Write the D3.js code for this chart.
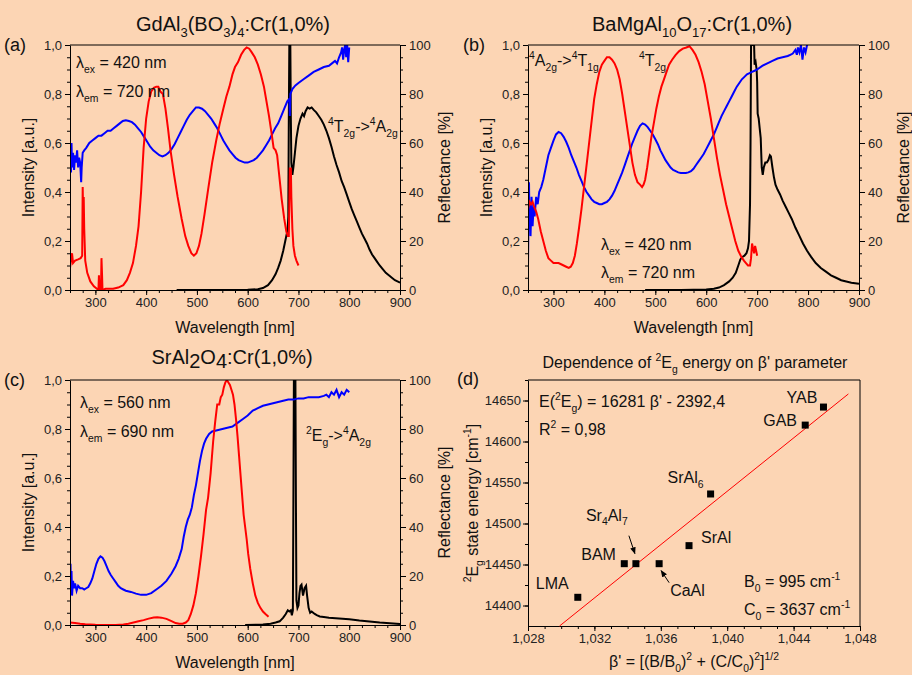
<!DOCTYPE html>
<html>
<head>
<meta charset="utf-8">
<script src="https://cdn.jsdelivr.net/npm/d3@7"></script>
<style>
body { margin: 0; background: #FCD5B4; }
svg { display: block; font-family: "Liberation Sans", Arial, sans-serif; }
</style>
</head>
<body>
<svg id="chart" width="912" height="675"></svg>
<script>
// ---- panel (a) GdAl3(BO3)4 ----
const aRedNm = [250,252,254,256,260,266,271,274,275,276,277,278,280,284,290,297,303,306,307,308,311,312,313,314,320,335,345,355,362,368,374,380,385,390,395,400,405,410,415,420,424,428,433,438,443,448,455,462,470,477,483,489,494,499,504,509,515,522,530,538,545,552,558,564,570,575,581,587,593,598,603,608,614,620,626,632,637,642,647,651,655,658,662,667,672,676,679,681,682,683,684,685,686,688,690,693,696,700];
const aRedVal = [0.09,0.12,0.15,0.11,0.12,0.125,0.13,0.14,0.42,0.30,0.38,0.25,0.12,0.07,0.035,0.015,0.005,0.0,0.06,0.0,0.0,0.13,0.07,0.0,0.005,0.005,0.01,0.02,0.04,0.07,0.11,0.18,0.26,0.40,0.58,0.70,0.77,0.81,0.825,0.83,0.83,0.81,0.80,0.74,0.66,0.57,0.47,0.38,0.29,0.22,0.18,0.15,0.14,0.15,0.18,0.23,0.31,0.41,0.52,0.61,0.68,0.74,0.79,0.83,0.88,0.91,0.93,0.96,0.98,0.99,0.985,0.97,0.95,0.92,0.88,0.83,0.77,0.71,0.64,0.58,0.57,0.55,0.47,0.37,0.29,0.24,0.22,0.22,0.35,0.50,0.44,0.50,0.38,0.25,0.18,0.14,0.12,0.10];
const aBlueNm = [250,251,252,253,254,256,258,260,262,264,266,268,270,272,273,275,278,282,288,294,300,306,312,318,324,330,336,342,348,354,360,366,372,378,384,390,396,402,408,414,420,426,432,438,444,450,456,462,468,474,480,486,492,498,504,510,516,522,528,534,540,546,552,558,564,570,576,582,588,594,600,606,612,618,624,630,636,642,648,654,660,666,672,678,682,683,684,688,694,700,710,720,730,740,750,760,766,772,776,780,784,786,788,790,792,794,796,798,800];
const aBlueVal = [52,58,48,60,50,56,49,55,52,57,50,54,52,44,50,56,57,58,60,61,62,63,63,64,65,65,66,67,68,69,69.3,69,68.5,67.5,66,64.5,62.5,60.5,58.5,57,56,55,54.5,55,56,57.5,59.5,62,64.5,67,69.5,71.5,73,74.5,74.5,74,73,71.5,70,68,66,63.5,61,59,57,55.5,54,53,52.5,52,52,52.5,53,54,55.5,57,59,61,63.5,66,68,71,74,77,78,71,80,82,83.5,84.5,86,87.5,89,90,91,91.5,92.5,93.5,92.5,95,97,99,94,98,100,95,100,93,99];
const aBlackNm = [460,500,550,600,620,630,640,648,655,660,665,670,674,677,679,680,681,682,684,685,686,688,690,693,696,700,704,708,711,714,718,722,726,730,735,740,745,750,755,760,765,770,775,780,785,790,795,800,805,810,815,820,825,830,835,840,845,850,855,860,866,872,878,884,890,895,900];
const aBlackVal = [0,0,0,0.001,0.003,0.008,0.02,0.04,0.065,0.09,0.12,0.16,0.2,0.23,0.26,0.3,0.7,1.0,1.0,0.7,0.52,0.47,0.5,0.56,0.62,0.67,0.7,0.72,0.71,0.73,0.745,0.74,0.745,0.735,0.725,0.71,0.695,0.675,0.65,0.62,0.585,0.545,0.51,0.48,0.445,0.42,0.39,0.36,0.33,0.305,0.28,0.255,0.23,0.21,0.19,0.165,0.145,0.13,0.115,0.1,0.085,0.07,0.06,0.05,0.04,0.035,0.03];

// ---- panel (b) BaMgAl10O17 ----
const bRedNm = [250,253,256,259,262,266,270,275,280,285,290,295,300,305,310,315,320,325,330,334,338,342,346,350,355,360,365,370,375,380,385,390,395,400,405,410,415,420,425,430,435,440,445,450,455,460,465,470,474,477,480,484,488,492,497,502,507,512,517,522,527,533,540,547,554,561,567,573,579,585,591,597,603,609,615,621,627,633,639,645,651,657,663,669,674,678,682,686,688,690,692,694,696,698,700];
const bRedVal = [0.33,0.36,0.35,0.36,0.34,0.32,0.29,0.24,0.2,0.16,0.13,0.12,0.11,0.11,0.11,0.105,0.1,0.095,0.09,0.095,0.11,0.14,0.19,0.25,0.33,0.42,0.51,0.6,0.69,0.78,0.84,0.89,0.92,0.935,0.95,0.95,0.94,0.925,0.9,0.86,0.8,0.73,0.66,0.59,0.52,0.47,0.44,0.43,0.42,0.43,0.45,0.5,0.56,0.62,0.68,0.74,0.79,0.83,0.86,0.89,0.92,0.94,0.96,0.975,0.985,0.99,0.995,0.98,0.96,0.93,0.89,0.84,0.77,0.7,0.62,0.54,0.47,0.41,0.35,0.3,0.25,0.2,0.16,0.135,0.12,0.11,0.1,0.1,0.13,0.19,0.17,0.15,0.18,0.16,0.14];
const bBlueNm = [250,251,252,253,254,255,257,259,261,263,266,269,272,276,280,285,290,295,300,305,310,315,320,325,330,335,340,345,350,355,360,365,370,375,380,385,390,395,400,405,410,415,420,425,430,435,440,445,450,455,460,465,470,475,480,485,490,495,500,505,510,515,520,525,530,535,540,545,550,555,560,565,570,575,580,585,590,595,600,605,610,615,620,625,630,635,640,645,650,655,660,665,670,675,680,685,690,695,700,710,720,730,740,750,760,765,770,775,778,780,783,786,789,792,795,798,800];
const bBlueVal = [10,30,44,25,35,22,38,26,34,30,38,35,40,42,45,50,55,58,61,63.5,64.5,64,62.5,60.5,58,55,52.5,50,47,44.5,42,40,38.5,37,36,35.5,35,35,35.5,36,37,38.5,40.5,43,45.5,48,51,54,57,60,62.5,65,67,68,67.5,66.5,65,63.5,61.5,59.5,57,55,53,51.5,50,49,48.5,48,47.8,47.8,47.8,48,48.5,49.5,51,52.5,54,55.5,57.5,59.5,61.5,63.5,66,68.5,71,73,75,77,79,81,83,84.5,86,87,88,88.5,89,89.5,90,91.5,92.5,93.5,94.5,95,95.5,96,96.5,98,96,99,97,100,94,99,97,100,100];
const bBlackNm = [480,550,600,615,625,635,645,652,658,663,667,671,675,679,682,684,686,687,688,692,694,695,697,699,700,701,703,705,707,709,711,713,716,719,722,725,727,730,733,736,740,745,750,756,762,768,775,782,790,798,806,815,825,835,845,855,865,875,885,900];
const bBlackVal = [0,0,0.002,0.005,0.01,0.02,0.035,0.05,0.07,0.1,0.125,0.135,0.14,0.15,0.17,0.2,0.35,0.6,1.0,1.0,1.0,0.92,0.93,0.9,0.85,0.72,0.7,0.66,0.62,0.5,0.47,0.5,0.52,0.52,0.53,0.55,0.545,0.5,0.46,0.43,0.41,0.39,0.365,0.34,0.315,0.29,0.255,0.225,0.19,0.16,0.135,0.11,0.09,0.075,0.06,0.05,0.04,0.035,0.03,0.025];

// ---- panel (c) SrAl2O4 ----
const cBlueNm = [250,251,252,253,254,256,258,260,263,266,270,274,278,282,286,290,294,298,302,306,310,314,318,322,326,330,335,340,345,350,355,360,370,380,390,400,410,420,430,440,450,458,464,470,474,478,482,486,490,494,498,502,506,510,514,518,524,530,540,550,560,570,580,590,600,610,620,630,640,650,660,670,680,690,700,710,720,730,740,750,755,760,765,770,775,780,785,790,795,800];
const cBlueVal = [20,25,14,22,12,18,15,17,14,16,15,15,14.5,15,15.5,17,19,22,25,27,28,27.5,26,24,22,20.5,19,17.5,16,15,14.5,14,13.5,12.8,12.3,12.3,13,14.5,16,18,21,24,27,31,36,40,43,45,48,53,57,62,67,71,74,76,78,79,79.5,80,80.5,81,82.5,84,85.5,87.5,88.5,89.5,90,90.5,91,91.5,92,92,92.5,92.5,93,93,93,93.5,94,93,95,94,96,93,95,94,96,95];
const cRedNm = [250,260,270,280,300,320,340,355,365,375,385,395,405,415,422,430,440,450,458,465,472,478,483,488,493,498,503,508,513,518,522,527,532,536,540,544,547,550,553,556,559,562,565,568,571,574,577,580,583,586,589,592,595,598,601,605,610,615,620,625,630,635,641];
const cRedVal = [0.01,0.008,0.005,0.003,0.001,0,0,0.002,0.005,0.01,0.015,0.02,0.026,0.031,0.032,0.03,0.025,0.016,0.008,0.005,0.005,0.01,0.02,0.045,0.08,0.13,0.2,0.28,0.37,0.47,0.52,0.62,0.75,0.83,0.9,0.9,0.93,0.94,0.97,0.99,1.0,0.99,0.98,0.96,0.94,0.9,0.84,0.77,0.69,0.61,0.53,0.45,0.4,0.35,0.29,0.23,0.17,0.12,0.09,0.07,0.055,0.045,0.034];
const cBlackNm = [595,630,645,655,663,670,675,679,682,685,687,689,690,691,694,695,696,698,700,702,704,706,709,712,715,717,720,723,726,729,732,736,742,750,760,780,800,820,840,860,880,900];
const cBlackVal = [0,0.002,0.005,0.01,0.015,0.03,0.045,0.06,0.055,0.06,0.04,0.06,0.5,1.0,1.0,0.5,0.1,0.07,0.08,0.13,0.16,0.165,0.12,0.15,0.16,0.12,0.07,0.05,0.055,0.05,0.045,0.04,0.035,0.033,0.03,0.027,0.023,0.018,0.014,0.01,0.007,0.004];

// ---- panel (d) 2Eg energy vs beta' ----
const dNames = ["LMA", "BAM", "Sr4Al7", "CaAl", "SrAl", "SrAl6", "GAB", "YAB"];
const dLabels = ["LMA", "BAM", "Sr_{4}Al_{7}", "CaAl", "SrAl", "SrAl_{6}", "GAB", "YAB"];
const dBeta = [1.0310, 1.0338, 1.0345, 1.0359, 1.0377, 1.0390, 1.0447, 1.0458];
const dEnergy = [14410, 14451, 14451, 14451, 14473, 14536, 14620, 14642];
const dFitBeta = [1.0299, 1.0473];
const dFitEnergy = [14375, 14658];

const wlTicks = [300, 400, 500, 600, 700, 800, 900];
const intTicks = [0, 0.2, 0.4, 0.6, 0.8, 1.0];
const refTicks = [0, 20, 40, 60, 80, 100];
const betaTicks = [1.028, 1.032, 1.036, 1.040, 1.044, 1.048];
const energyTicks = [14400, 14450, 14500, 14550, 14600, 14650];

// label offsets for panel (d), relative to the data point
const dLabelPos = {
  LMA: [-42, -8], BAM: [-43, -4], Sr4Al7: [-50, -43], CaAl: [11, 32],
  SrAl: [12, -3], SrAl6: [-43, -11], GAB: [-42, 1], YAB: [-37, -4]
};
const dArrows = { Sr4Al7: [[-7, -28], [-1, -10]], CaAl: [[10, 19], [2, 7]] };

const svg = d3.select("#chart");
svg.append("rect").attr("width", 912).attr("height", 675).attr("fill", "#FCD5B4");

svg.append("defs").append("marker")
  .attr("id", "arrow").attr("viewBox", "0 0 10 10").attr("refX", 9).attr("refY", 5)
  .attr("markerWidth", 7).attr("markerHeight", 7).attr("orient", "auto")
  .append("path").attr("d", "M0,1 L10,5 L0,9 Z").attr("fill", "#000");

const comma = f => d => d3.format(f)(d).replace(".", ",");

// text with _{sub}, ^{sup} and ~{lowered} pieces
function rich(parent, x, y, str, size, anchor, rotate) {
  const t = parent.append("text")
    .attr("font-size", size).attr("fill", "#111")
    .attr("text-anchor", anchor || "start");
  if (rotate) t.attr("transform", `translate(${x},${y}) rotate(-90)`);
  else t.attr("x", x).attr("y", y);
  const parts = str.split(/(_\{[^}]*\}|\^\{[^}]*\}|~\{[^}]*\})/).filter(s => s.length);
  let shift = 0;
  parts.forEach(p => {
    let off = 0, fs = size, txt = p;
    if (p[0] === "_" && p[1] === "{") { txt = p.slice(2, -1); off = size * 0.3; fs = size * 0.65; }
    else if (p[0] === "^" && p[1] === "{") { txt = p.slice(2, -1); off = -size * 0.42; fs = size * 0.65; }
    else if (p[0] === "~" && p[1] === "{") { txt = p.slice(2, -1); off = size * 0.22; fs = size; }
    t.append("tspan").attr("dy", off - shift).attr("font-size", fs).text(txt);
    shift = off;
  });
  return t;
}

function styleAxis(sel, fs) {
  sel.selectAll("text").attr("font-size", fs || 13).attr("fill", "#222")
    .attr("font-family", "Liberation Sans, Arial, sans-serif");
  sel.selectAll("line").attr("stroke", "#000");
  sel.select(".domain").attr("stroke", "#000");
}

function spectrum(box, id, red, blue, black) {
  const x = d3.scaleLinear().domain([250, 900]).range([box.x0, box.x1]);
  const yL = d3.scaleLinear().domain([0, 1]).range([box.y1, box.y0]);
  const yR = d3.scaleLinear().domain([0, 100]).range([box.y1, box.y0]);
  const g = svg.append("g");

  g.append("clipPath").attr("id", "clip" + id).append("rect")
    .attr("x", box.x0).attr("y", box.y0)
    .attr("width", box.x1 - box.x0).attr("height", box.y1 - box.y0);
  const plot = g.append("g").attr("clip-path", `url(#clip${id})`);

  const lineL = d3.line().x(d => x(d[0])).y(d => yL(d[1]));
  const lineR = d3.line().x(d => x(d[0])).y(d => yR(d[1]));
  plot.append("path").datum(d3.zip(black[0], black[1])).attr("d", lineL)
    .attr("fill", "none").attr("stroke", "#000").attr("stroke-width", 2);
  plot.append("path").datum(d3.zip(blue[0], blue[1])).attr("d", lineR)
    .attr("fill", "none").attr("stroke", "#0000FF").attr("stroke-width", 2);
  plot.append("path").datum(d3.zip(red[0], red[1])).attr("d", lineL)
    .attr("fill", "none").attr("stroke", "#FF0000").attr("stroke-width", 2);

  // minor ticks
  g.append("g").attr("transform", `translate(0,${box.y1})`)
    .call(d3.axisBottom(x).tickValues(d3.range(250, 901, 25)).tickSize(3).tickFormat(""))
    .call(s => { s.select(".domain").remove(); styleAxis(s); });
  g.append("g").attr("transform", `translate(${box.x0},0)`)
    .call(d3.axisLeft(yL).tickValues(d3.range(0, 21).map(i => i * 0.05)).tickSize(3).tickFormat(""))
    .call(s => { s.select(".domain").remove(); styleAxis(s); });
  g.append("g").attr("transform", `translate(${box.x1},0)`)
    .call(d3.axisRight(yR).tickValues(d3.range(0, 101, 5)).tickSize(3).tickFormat(""))
    .call(s => { s.select(".domain").remove(); styleAxis(s); });

  // major ticks
  g.append("g").attr("transform", `translate(0,${box.y1})`)
    .call(d3.axisBottom(x).tickValues(wlTicks).tickSize(5).tickPadding(3).tickSizeOuter(0))
    .call(styleAxis);
  g.append("g").attr("transform", `translate(${box.x0},0)`)
    .call(d3.axisLeft(yL).tickValues(intTicks).tickSize(5).tickPadding(3).tickSizeOuter(0).tickFormat(comma(".1f")))
    .call(styleAxis);
  g.append("g").attr("transform", `translate(${box.x1},0)`)
    .call(d3.axisRight(yR).tickValues(refTicks).tickSize(6).tickPadding(3).tickSizeOuter(0))
    .call(styleAxis);
  g.append("line").attr("x1", box.x0).attr("x2", box.x1).attr("y1", box.y0).attr("y2", box.y0)
    .attr("stroke", "#000");

  const cx = (box.x0 + box.x1) / 2, cy = (box.y0 + box.y1) / 2;
  rich(g, cx, box.y1 + 43, "Wavelength [nm]", 16, "middle");
  rich(g, box.x0 - 36, cy, "Intensity [a.u.]", 16, "middle", true);
  rich(g, box.x1 + 50, cy, "Reflectance [%]", 16, "middle", true);
  return g;
}

const boxA = { x0: 70, x1: 400, y0: 45, y1: 290 };
const boxB = { x0: 528, x1: 859, y0: 45, y1: 290 };
const boxC = { x0: 70, x1: 400, y0: 380, y1: 625 };
const boxD = { x0: 528, x1: 860, y0: 380, y1: 626 };

const gA = spectrum(boxA, "a", [aRedNm, aRedVal], [aBlueNm, aBlueVal], [aBlackNm, aBlackVal]);
rich(gA, 233, 31, "GdAl_{3}(BO_{3})_{4}:Cr(1,0%)", 20, "middle");
rich(gA, 4, 51, "(a)", 18);
rich(gA, 76, 68, "λ_{ex} = 420 nm", 16);
rich(gA, 76, 97, "λ_{em} = 720 nm", 16);
rich(gA, 328, 132, "^{4}T_{2g}->^{4}A_{2g}", 16);

const gB = spectrum(boxB, "b", [bRedNm, bRedVal], [bBlueNm, bBlueVal], [bBlackNm, bBlackVal]);
rich(gB, 692, 31, "BaMgAl_{10}O_{17}:Cr(1,0%)", 20, "middle");
rich(gB, 463, 51, "(b)", 18);
rich(gB, 529, 66, "^{4}A_{2g}->^{4}T_{1g}", 16);
rich(gB, 639, 66, "^{4}T_{2g}", 16);
rich(gB, 601, 250, "λ_{ex} = 420 nm", 16);
rich(gB, 601, 278, "λ_{em} = 720 nm", 16);

const gC = spectrum(boxC, "c", [cRedNm, cRedVal], [cBlueNm, cBlueVal], [cBlackNm, cBlackVal]);
rich(gC, 232, 364, "SrAl~{2}O~{4}:Cr(1,0%)", 20, "middle");
rich(gC, 4, 386, "(c)", 18);
rich(gC, 80, 408, "λ_{ex} = 560 nm", 16);
rich(gC, 80, 437, "λ_{em} = 690 nm", 16);
rich(gC, 306, 441, "^{2}E_{g}->^{4}A_{2g}", 16);

// ---- panel (d) ----
const gD = svg.append("g");
const xD = d3.scaleLinear().domain([1.028, 1.048]).range([boxD.x0, boxD.x1]);
const yD = d3.scaleLinear().domain([14375, 14675]).range([boxD.y1, boxD.y0]);

gD.append("g").attr("transform", `translate(0,${boxD.y1})`)
  .call(d3.axisBottom(xD).tickValues(d3.range(0, 21).map(i => 1.028 + i * 0.001)).tickSize(3).tickFormat(""))
  .call(s => { s.select(".domain").remove(); styleAxis(s); });
gD.append("g").attr("transform", `translate(${boxD.x0},0)`)
  .call(d3.axisLeft(yD).tickValues(d3.range(14400, 14676, 25)).tickSize(3).tickFormat(""))
  .call(s => { s.select(".domain").remove(); styleAxis(s); });
gD.append("g").attr("transform", `translate(0,${boxD.y1})`)
  .call(d3.axisBottom(xD).tickValues(betaTicks).tickSize(5).tickPadding(3).tickSizeOuter(0).tickFormat(comma(".3f")))
  .call(styleAxis);
gD.append("g").attr("transform", `translate(${boxD.x0},0)`)
  .call(d3.axisLeft(yD).tickValues(energyTicks).tickSize(5).tickPadding(2).tickSizeOuter(0).tickFormat(d3.format("d")))
  .call(styleAxis);
gD.append("path")
  .attr("d", `M${boxD.x0},${boxD.y0}H${boxD.x1}V${boxD.y1}`)
  .attr("fill", "none").attr("stroke", "#000");

gD.append("path").datum(d3.zip(dFitBeta, dFitEnergy))
  .attr("d", d3.line().x(d => xD(d[0])).y(d => yD(d[1])))
  .attr("fill", "none").attr("stroke", "#FF0000").attr("stroke-width", 1);

gD.selectAll("rect.pt").data(d3.range(dNames.length)).enter().append("rect")
  .attr("class", "pt")
  .attr("x", i => xD(dBeta[i]) - 3.5).attr("y", i => yD(dEnergy[i]) - 3.5)
  .attr("width", 7).attr("height", 7).attr("fill", "#000");

dNames.forEach((n, i) => {
  const px = xD(dBeta[i]), py = yD(dEnergy[i]);
  const o = dLabelPos[n];
  rich(gD, px + o[0], py + o[1], dLabels[i], 16);
  if (dArrows[n]) {
    const a = dArrows[n];
    gD.append("line")
      .attr("x1", px + a[0][0]).attr("y1", py + a[0][1])
      .attr("x2", px + a[1][0]).attr("y2", py + a[1][1])
      .attr("stroke", "#000").attr("stroke-width", 1).attr("marker-end", "url(#arrow)");
  }
});

rich(gD, 695, 368, "Dependence of ^{2}E_{g} energy on β' parameter", 16, "middle");
rich(gD, 457, 385, "(d)", 18);
rich(gD, 539, 407, "E(^{2}E_{g}) = 16281 β' - 2392,4", 16);
rich(gD, 539, 435, "R^{2} = 0,98", 16);
rich(gD, 744, 587, "B_{0} = 995 cm^{-1}", 16);
rich(gD, 744, 615, "C_{0} = 3637 cm^{-1}", 16);
rich(gD, 478, (boxD.y0 + boxD.y1) / 2, "^{2}E_{g} state energy [cm^{-1}]", 16, "middle", true);
rich(gD, 694, 667, "β' = [(B/B_{0})^{2} + (C/C_{0})^{2}]^{1/2}", 16, "middle");
</script>
</body>
</html>
